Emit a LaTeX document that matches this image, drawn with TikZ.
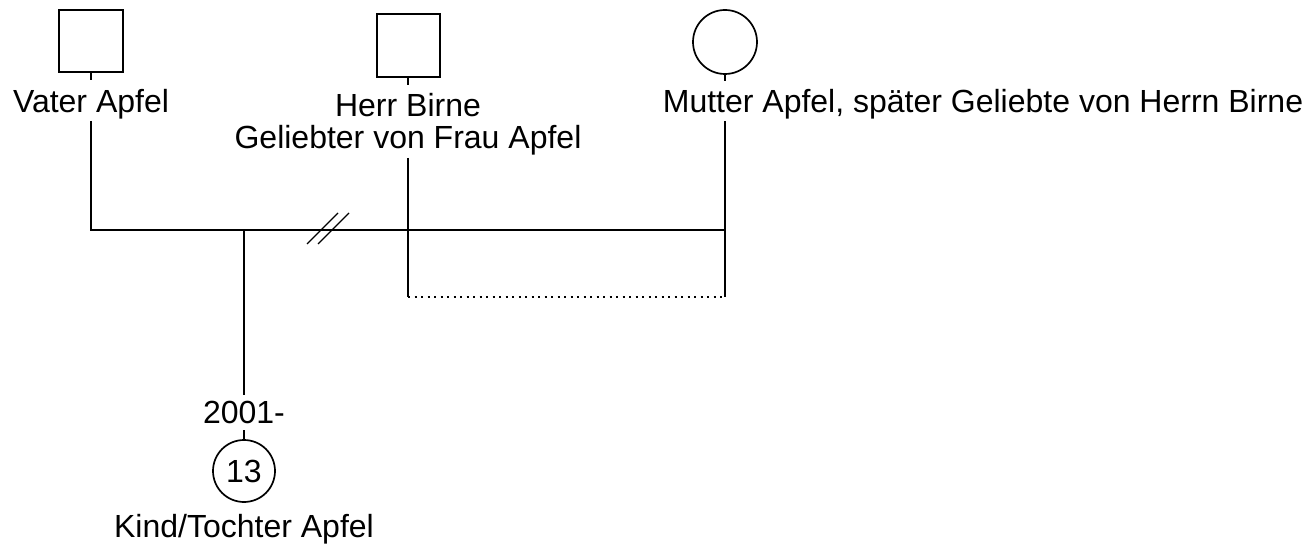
\documentclass[tikz,border=0pt]{standalone}
\usepackage{fontspec}
\setmainfont{Liberation Sans}
\begin{document}
\begin{tikzpicture}[x=1pt,y=-1pt,
  line width=2pt,
  male/.style={draw, line width=2pt, minimum width=64pt, minimum height=62pt, inner sep=0pt},
  female/.style={draw, circle, line width=1.7pt, minimum size=64pt, inner sep=0pt},
  lbl/.style={font=\fontsize{32}{33}\selectfont, inner sep=0pt, anchor=base},
  rel/.style={line width=2pt},
  dot/.style={line width=2pt, dash pattern=on 2pt off 4.5pt}]
\useasboundingbox (0,0) rectangle (1309,545);
% persons
\node[male] (vater) at (91,41) {};
\node[male, minimum height=63pt, minimum width=63pt] (birne) at (408,46) {};
\node[female] (mutter) at (725,42) {};
\node[female, minimum size=62pt, font=\fontsize{32}{33}\selectfont] (kind) at (244,471) {13};
% labels
\node[lbl] (lv) at (91,113) {Vater Apfel};
\node[lbl] (lb1) at (408,117) {Herr Birne};
\node[lbl] (lb2) at (408,149) {Geliebter von Frau Apfel};
\node[lbl] (lm) at (983,113) {Mutter Apfel, später Geliebte von Herrn Birne};
\node[lbl] (lk1) at (244,423) {2001-};
\node[lbl] (lk2) at (244,537) {Kind/Tochter Apfel};
% coordinates
\coordinate (vs) at (91,80);
\coordinate (vt) at (91,121);
\coordinate (vj) at (91,230);
\coordinate (bs) at (408,85);
\coordinate (bt) at (408,158);
\coordinate (bj) at (408,230);
\coordinate (bd) at (408,297);
\coordinate (ms) at (725,81);
\coordinate (mt) at (725,121);
\coordinate (mj) at (725,230);
\coordinate (md) at (725,297);
\coordinate (cj) at (244,230);
\coordinate (ce) at (244,395);
\coordinate (ks) at (244,430);
\coordinate (s1a) at (307,244);
\coordinate (s1b) at (338,213);
\coordinate (s2a) at (318,244);
\coordinate (s2b) at (349,213);
% stubs
\draw[rel] (vater.south) -- (vs);
\draw[rel] (birne.south) -- (bs);
\draw[rel] (mutter.south) -- (ms);
\draw[rel] (ks) -- (kind.north);
% relation lines
\draw[rel] (vt) -- (vj) -- (mj) -- (mt);
\draw[rel] (bt) -- (bd);
\draw[rel] (mj) -- (md);
\draw[dot] (bd) -- (md);
\draw[rel] (cj) -- (ce);
\draw[line width=1.4pt] (s1a) -- (s1b);
\draw[line width=1.4pt] (s2a) -- (s2b);
\end{tikzpicture}
\end{document}
